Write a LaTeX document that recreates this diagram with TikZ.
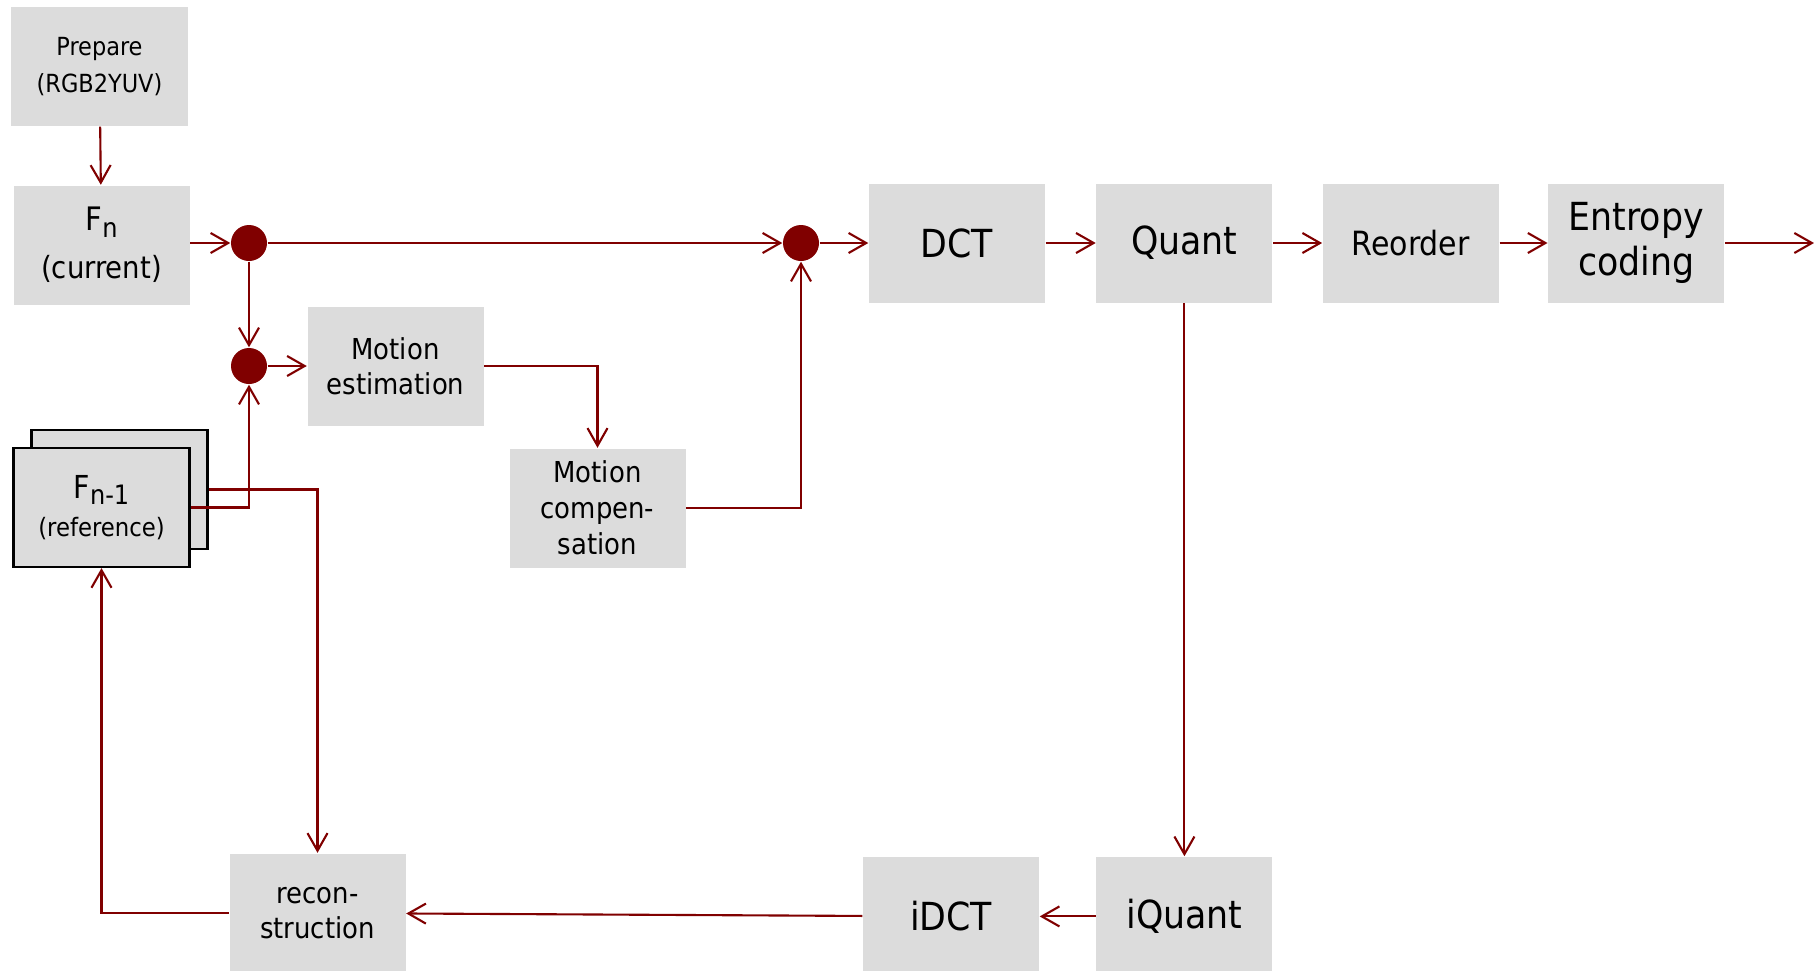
\documentclass[tikz,border=0pt]{standalone}
\usepackage{fontspec}
\setmainfont{DejaVu Sans Condensed}
\usetikzlibrary{arrows.meta}
\usetikzlibrary{positioning}

\definecolor{darkred}{HTML}{800000}
\definecolor{boxgrey}{HTML}{DCDCDC}

% lowered index letter next to the frame name
\newcommand{\lowidx}[1]{\raisebox{-0.35ex}{\fontsize{7.6}{8}\selectfont #1}}

\begin{document}
\begin{tikzpicture}[
    block/.style={fill=boxgrey, minimum width=1.76cm, minimum height=1.19cm, inner sep=1pt, align=center},
    framed/.style={block, draw=black, line width=0.6pt},
    dot/.style={circle, fill=darkred, minimum size=0.36cm, inner sep=0pt},
    arrow/.style={darkred, line width=0.6pt, -{Straight Barb[length=5pt,width=5.7pt]}},
    big/.style={font=\fontsize{11}{12}\selectfont},
    mid/.style={font=\fontsize{8.2}{10}\selectfont}]

  \useasboundingbox (0,0) rectangle (18.14,-9.70);

  % input side
  \node[block, font=\fontsize{7.1}{10.5}\selectfont] (prep) at (0.995,-0.665) {Prepare\\(RGB2YUV)};
  \node[block, font=\fontsize{8.7}{13.6}\selectfont] (fn) at (1.015,-2.45) {{\fontsize{9.2}{10}\selectfont F\lowidx{n}}\\(current)};
  \node[framed] (refback) at (1.195,-4.895) {};
  \node[framed, font=\fontsize{7.2}{11}\selectfont] (ref) at (1.015,-5.075) {{\fontsize{9}{10}\selectfont F\lowidx{n-1}}\\(reference)};

  \node[dot] (dot1) at (2.49,-2.43) {};
  \node[dot] (dot2) at (2.49,-3.66) {};
  \node[dot] (dot3) at (8.01,-2.43) {};

  \node[block, mid] (me) at (3.955,-3.66) {Motion\\estimation};
  \node[block, mid, font=\fontsize{8.2}{10.3}\selectfont] (mc) at (5.975,-5.08) {Motion\\compen-\\sation};

  % forward path
  \node[block, big] (dct) at (9.57,-2.43) {DCT};
  \node[block, big] (quant) [right=0.5cm of dct] {Quant};
  \node[block, font=\fontsize{9.5}{11}\selectfont] (reord) [right=0.49cm of quant] {Reorder};
  \node[block, font=\fontsize{11}{13}\selectfont] (entropy) [right=0.48cm of reord] {Entropy\\coding};
  \coordinate (out) at (18.14,-2.43);

  % reconstruction loop
  \node[block, big] (iquant) [below=5.53cm of quant] {iQuant};
  \node[block, big] (idct) [left=0.56cm of iquant] {iDCT};
  \node[block, mid] (recon) at (3.175,-9.13) {recon-\\struction};

  \draw[arrow] (prep) -- (fn);
  \draw[arrow] (fn.east |- dot1) -- (dot1);
  \draw[arrow] (dot1) -- (dot3);
  \draw[arrow] (dot1) -- (dot2);
  \draw[arrow] (dot2) -- (me);
  \draw[arrow] (ref.east) -| (dot2);
  \draw[arrow] (refback.east) -| (recon);
  \draw[arrow] (me.east) -| (mc);
  \draw[arrow] (mc.east) -| (dot3);
  \draw[arrow] (dot3) -- (dct);
  \draw[arrow] (dct) -- (quant);
  \draw[arrow] (quant) -- (reord);
  \draw[arrow] (reord) -- (entropy);
  \draw[arrow] (entropy) -- (out);
  \draw[arrow] (quant) -- (iquant);
  \draw[arrow] (iquant) -- (idct);
  \draw[arrow] (idct) -- (recon);
  \draw[arrow] (recon.west) -| (ref);
\end{tikzpicture}
\end{document}
